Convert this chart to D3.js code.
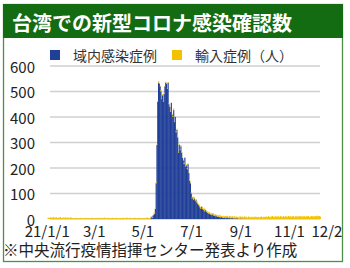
<!DOCTYPE html>
<html><head><meta charset="utf-8">
<script src="https://cdn.jsdelivr.net/npm/d3@7"></script>
<style>body{margin:0;background:#fff}svg{display:block}text{font-family:"Noto Sans CJK JP","Noto Sans",sans-serif}</style>
</head><body>
<script>
const title = "台湾での新型コロナ感染確認数";
const footnote = "※中央流行疫情指揮センター発表より作成";
const seriesNames = ["域内感染症例", "輸入症例（人）"];
const yTicks = [0, 100, 200, 300, 400, 500, 600];
const xTickDates = ["2021-01-01","2021-03-01","2021-05-01","2021-07-01","2021-09-01","2021-11-01","2021-12-18"];
const xTickLabels = ["21/1/1","3/1","5/1","7/1","9/1","11/1","12/2"];

// imported cases, daily from 2021-01-01
const importedStart = "2021-01-01";
const imported = [
 3,5,4,7,6,3,5,8,4,6,5,7,3,4,6,5,8,4,3,6,5,4,7,3,5,6,4,3,5,7,4,
 3,2,4,3,5,2,3,4,2,3,5,3,2,4,3,2,3,5,4,2,3,4,3,2,5,3,4,2,
 3,4,2,5,3,2,4,3,5,2,3,4,6,3,2,4,3,5,2,4,3,2,5,3,4,2,3,5,4,2,3,
 2,4,3,2,5,3,4,2,3,6,4,2,3,5,3,2,4,3,2,5,4,3,2,4,3,5,2,3,4,3,
 3,2,5,4,3,6,4,2,3,5,4,3,2,6,5,3,4,2,3,5,4,3,6,2,4,3,5,2,3,4,3,
 2,4,3,5,2,3,4,6,3,2,5,4,3,2,4,3,5,2,4,3,6,3,2,4,5,3,2,4,3,5,
 4,3,5,6,3,4,7,5,3,6,4,5,3,7,4,6,5,3,4,6,5,7,4,3,6,5,4,7,3,5,6,
 5,7,4,6,8,5,3,6,7,5,4,8,6,5,7,4,6,8,5,7,6,4,8,5,6,7,5,4,8,6,7,
 6,8,5,7,9,6,8,5,7,10,6,8,7,9,5,8,6,10,7,8,6,9,7,5,8,10,6,7,9,8,
 8,10,7,9,11,8,6,10,9,12,8,7,11,9,10,8,12,7,9,11,10,8,9,12,7,10,11,8,9,12,10,
 9,11,8,10,12,9,7,11,10,8,12,9,11,10,8,12,9,10,11,8,9,12,10,11,8,9,10,12,11,9,
 10,12,9,11,13,10,12,11,9
];

// domestic cases, daily from 2021-05-10
const domesticStart = "2021-05-10";
const domestic = [
 2,7,4,13,16,20,40,140,290,460,
 535,530,520,500,470,485,460,490,520,535,
 530,510,535,450,440,420,455,410,400,427,
 380,400,340,350,320,260,290,270,285,260,
 240,230,215,240,205,210,195,215,180,150,
 140,100,80,85,75,80,70,75,65,60,
 55,50,45,40,48,40,35,38,30,35,
 28,25,24,20,22,18,17,15,20,14,
 12,15,10,12,8,10,7,9,6,8,
 5,6,4,7,3,5,8,4,3,6,
 2,4,3,5,2,3,1,4,2,3,
 1,2,0,3,1,2,0,1,2,0,1
];

const W = 350, H = 268;
const svg = d3.select("body").append("svg").attr("width", W).attr("height", H);
svg.append("rect").attr("width", W).attr("height", H).attr("fill", "#fff");

const parse = d3.utcParse("%Y-%m-%d");
const day = 864e5;
const x = d3.scaleUtc().domain([parse("2021-01-01"), parse("2021-12-10")]).range([47.2, 320.6]);
const y = d3.scaleLinear().domain([0, 600]).range([219, 66]);

// frame
svg.append("rect").attr("x", 3.5).attr("y", 4.5).attr("width", 339).attr("height", 257)
  .attr("fill", "none").attr("stroke", "#4f8f45").attr("stroke-width", 1.3);
svg.append("rect").attr("x", 3).attr("y", 4).attr("width", 340).attr("height", 34).attr("fill", "#146c12");
svg.append("text").attr("x", 12).attr("y", 22).attr("dominant-baseline", "central")
  .attr("fill", "#fff").attr("font-size", 20).attr("font-weight", "bold").text(title);

// grid
svg.append("g").selectAll("line").data(yTicks).join("line")
  .attr("x1", 50).attr("x2", 320).attr("y1", d => y(d)).attr("y2", d => y(d))
  .attr("stroke", "#d0d0d0").attr("stroke-width", 1.3);

// y labels
svg.append("g").selectAll("text").data(yTicks).join("text")
  .attr("x", 35).attr("y", d => y(d)).attr("text-anchor", "end").attr("dominant-baseline", "central")
  .attr("font-size", 15).attr("fill", "#222").text(d => d);

// data table
const dStart = parse(domesticStart), iStart = parse(importedStart);
const rows = imported.map((v, i) => {
  const date = new Date(+iStart + i * day);
  const di = Math.round((date - dStart) / day);
  const dom = di >= 0 && di < domestic.length ? domestic[di] : 0;
  return {date, dom, imp: v};
});
const bw = x(new Date(+iStart + day)) - x(iStart);
const g = svg.append("g");
g.selectAll("rect.dom").data(rows.filter(r => r.dom > 0)).join("rect").attr("class", "dom")
  .attr("x", r => x(r.date)).attr("width", bw + 0.35)
  .attr("y", r => y(r.dom)).attr("height", r => y(0) - y(r.dom)).attr("fill", "#203f97");
g.selectAll("rect.imp").data(rows).join("rect").attr("class", "imp")
  .attr("x", r => x(r.date)).attr("width", bw + 0.35)
  .attr("y", r => y(r.dom + r.imp)).attr("height", r => y(r.dom) - y(r.dom + r.imp)).attr("fill", "#f2c200");

// x labels
svg.append("g").selectAll("text").data(xTickDates).join("text")
  .attr("x", d => x(parse(d))).attr("y", 230).attr("text-anchor", "middle").attr("dominant-baseline", "central")
  .attr("font-size", 15).attr("fill", "#222").text((d, i) => xTickLabels[i]);

// legend
const legendColors = ["#203f97", "#f2c200"];
const legendX = [50, 172];
const lg = svg.append("g");
seriesNames.forEach((n, i) => {
  lg.append("rect").attr("x", legendX[i]).attr("y", 50).attr("width", 10).attr("height", 10).attr("fill", legendColors[i]);
  lg.append("text").attr("x", legendX[i] + 23).attr("y", 55).attr("dominant-baseline", "central")
    .attr("font-size", 14).attr("fill", "#333").text(n);
});

// footnote
svg.append("text").attr("x", 3).attr("y", 249).attr("dominant-baseline", "central")
  .attr("font-size", 15.5).attr("fill", "#222").text(footnote);
</script>
</body></html>
